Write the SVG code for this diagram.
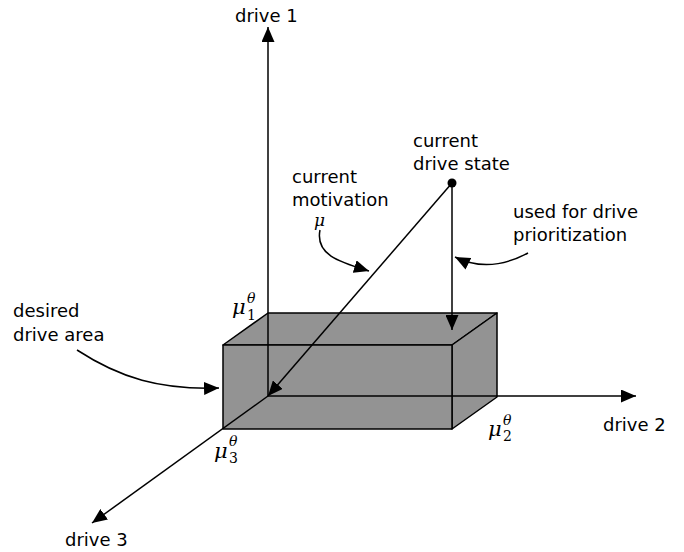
<svg xmlns="http://www.w3.org/2000/svg" width="684" height="552" viewBox="0 0 684 552">
<style>
.t{font-family:"DejaVu Sans","Liberation Sans",sans-serif;font-size:18px;fill:#000}
.m{font-family:"DejaVu Serif","Liberation Serif",serif;font-style:italic;font-size:21px;fill:#000}
.ms{font-family:"DejaVu Serif","Liberation Serif",serif;font-style:italic;font-size:17px;fill:#000}
.s{font-family:"DejaVu Serif","Liberation Serif",serif;font-size:14px;fill:#000}
.si{font-family:"DejaVu Serif","Liberation Serif",serif;font-style:italic;font-size:14px;fill:#000}
.ln{fill:none;stroke:#000;stroke-width:1.5}
.box{fill:#939393;stroke:#000;stroke-width:1.5;stroke-linejoin:round}
</style>
<defs>
<marker id="ah" markerUnits="userSpaceOnUse" markerWidth="15" markerHeight="13" refX="15" refY="6.5" orient="auto">
<path d="M0,0 L15,6.5 L0,13 z" fill="#000"/>
</marker>
</defs>
<g id="box">
<polygon class="box" points="223,345 268,313 497,313 452,345"/>
<polygon class="box" points="452,345 497,313 497,397 452,429"/>
<rect class="box" x="223" y="345" width="229" height="84"/>
</g>
<g id="connectors">
<line class="ln" x1="268" y1="396" x2="268" y2="27" marker-end="url(#ah)"/>
<line class="ln" x1="268" y1="396" x2="636" y2="396" marker-end="url(#ah)"/>
<line class="ln" x1="268" y1="396" x2="92" y2="523" marker-end="url(#ah)"/>
<line class="ln" x1="452" y1="183" x2="268" y2="396" marker-end="url(#ah)"/>
<line class="ln" x1="452" y1="183" x2="452" y2="330" marker-end="url(#ah)"/>
<path class="ln" d="M77,350 C120,378 160,390 219,388" marker-end="url(#ah)"/>
<path class="ln" d="M320,230 C315,255 340,262 369,271" marker-end="url(#ah)"/>
<path class="ln" d="M528,253 C500,268 475,267 455,257" marker-end="url(#ah)"/>
</g>
<g id="state">
<circle cx="452" cy="183" r="4.5" fill="#000"/>
<text class="t" x="413" y="147">current</text>
<text class="t" x="413" y="170">drive state</text>
</g>
<g id="drive1"><text class="t" x="235" y="22">drive 1</text></g>
<g id="drive2"><text class="t" x="603" y="431">drive 2</text></g>
<g id="drive3"><text class="t" x="65" y="546">drive 3</text></g>
<g id="motivation">
<text class="t" x="292" y="183">current</text>
<text class="t" x="292" y="206">motivation</text>
<text class="ms" x="314" y="226">μ</text>
</g>
<g id="prioritization">
<text class="t" x="513" y="218">used for drive</text>
<text class="t" x="513" y="241">prioritization</text>
</g>
<g id="desired">
<text class="t" x="13" y="317">desired</text>
<text class="t" x="13" y="341">drive area</text>
</g>
<g id="mu1">
<text class="m" x="232" y="314">μ</text>
<text class="si" x="247" y="303">θ</text>
<text class="s" x="247" y="320">1</text>
</g>
<g id="mu2">
<text class="m" x="488" y="436">μ</text>
<text class="si" x="503" y="425">θ</text>
<text class="s" x="503" y="441">2</text>
</g>
<g id="mu3">
<text class="m" x="214" y="458">μ</text>
<text class="si" x="229" y="446">θ</text>
<text class="s" x="229" y="463">3</text>
</g>
</svg>
